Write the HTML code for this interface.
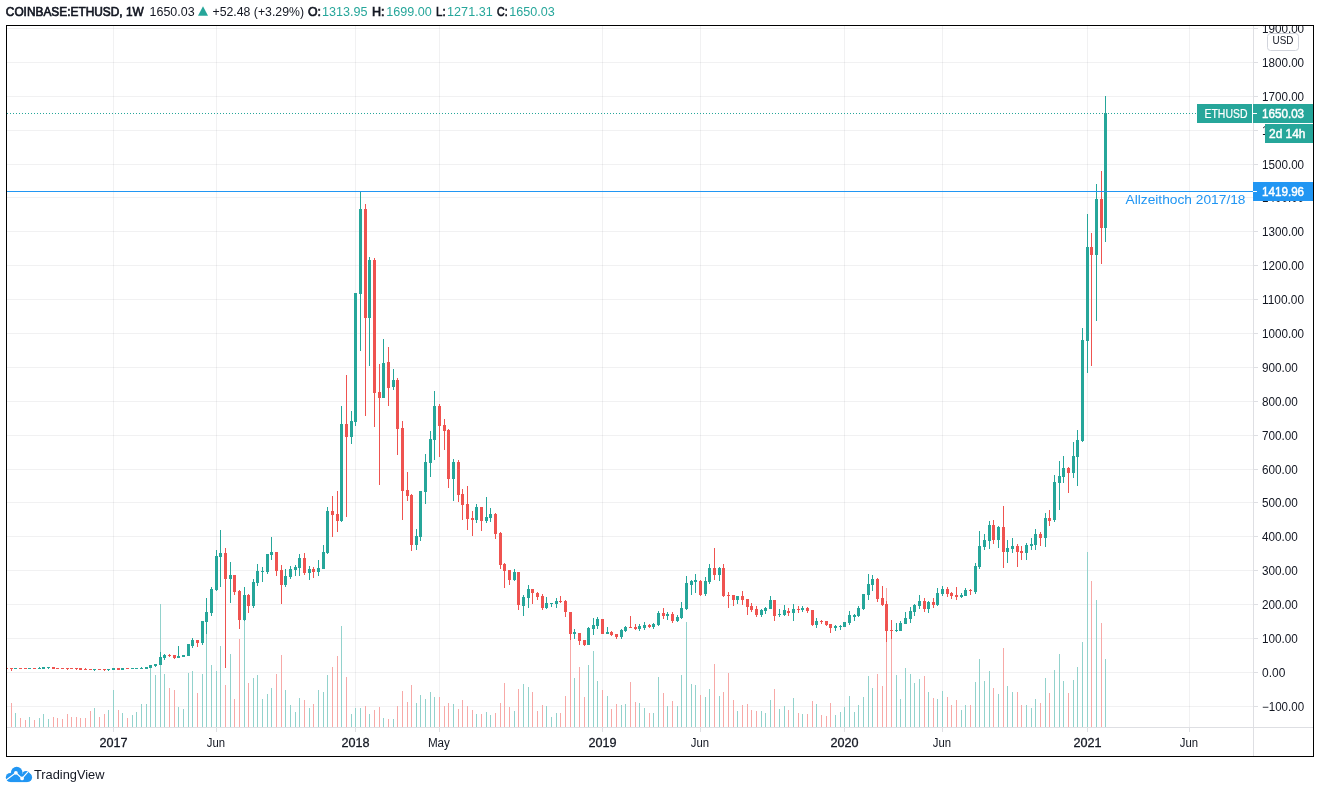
<!DOCTYPE html><html><head><meta charset="utf-8"><title>ETHUSD</title><style>
html,body{margin:0;padding:0;background:#fff}body{width:1320px;height:792px;position:relative;overflow:hidden;font-family:"Liberation Sans",sans-serif}svg{position:absolute;left:0;top:0;will-change:transform;opacity:0.999}text{font-family:"Liberation Sans",sans-serif}
</style></head><body>
<svg width="1320" height="792" viewBox="0 0 1320 792">
<clipPath id="cc"><rect x="7" y="26" width="1246" height="701"/></clipPath>
<g shape-rendering="crispEdges">
<g clip-path="url(#cc)">
<rect x="7" y="706" width="1246" height="1" fill="#2a2e39" fill-opacity="0.065"/>
<rect x="7" y="672" width="1246" height="1" fill="#2a2e39" fill-opacity="0.065"/>
<rect x="7" y="638" width="1246" height="1" fill="#2a2e39" fill-opacity="0.065"/>
<rect x="7" y="604" width="1246" height="1" fill="#2a2e39" fill-opacity="0.065"/>
<rect x="7" y="570" width="1246" height="1" fill="#2a2e39" fill-opacity="0.065"/>
<rect x="7" y="536" width="1246" height="1" fill="#2a2e39" fill-opacity="0.065"/>
<rect x="7" y="502" width="1246" height="1" fill="#2a2e39" fill-opacity="0.065"/>
<rect x="7" y="469" width="1246" height="1" fill="#2a2e39" fill-opacity="0.065"/>
<rect x="7" y="435" width="1246" height="1" fill="#2a2e39" fill-opacity="0.065"/>
<rect x="7" y="401" width="1246" height="1" fill="#2a2e39" fill-opacity="0.065"/>
<rect x="7" y="367" width="1246" height="1" fill="#2a2e39" fill-opacity="0.065"/>
<rect x="7" y="333" width="1246" height="1" fill="#2a2e39" fill-opacity="0.065"/>
<rect x="7" y="299" width="1246" height="1" fill="#2a2e39" fill-opacity="0.065"/>
<rect x="7" y="265" width="1246" height="1" fill="#2a2e39" fill-opacity="0.065"/>
<rect x="7" y="231" width="1246" height="1" fill="#2a2e39" fill-opacity="0.065"/>
<rect x="7" y="197" width="1246" height="1" fill="#2a2e39" fill-opacity="0.065"/>
<rect x="7" y="164" width="1246" height="1" fill="#2a2e39" fill-opacity="0.065"/>
<rect x="7" y="130" width="1246" height="1" fill="#2a2e39" fill-opacity="0.065"/>
<rect x="7" y="96" width="1246" height="1" fill="#2a2e39" fill-opacity="0.065"/>
<rect x="7" y="62" width="1246" height="1" fill="#2a2e39" fill-opacity="0.065"/>
<rect x="7" y="28" width="1246" height="1" fill="#2a2e39" fill-opacity="0.065"/>
<rect x="113" y="26" width="1" height="701" fill="#2a2e39" fill-opacity="0.065"/>
<rect x="216" y="26" width="1" height="701" fill="#2a2e39" fill-opacity="0.065"/>
<rect x="355" y="26" width="1" height="701" fill="#2a2e39" fill-opacity="0.065"/>
<rect x="439" y="26" width="1" height="701" fill="#2a2e39" fill-opacity="0.065"/>
<rect x="602" y="26" width="1" height="701" fill="#2a2e39" fill-opacity="0.065"/>
<rect x="700" y="26" width="1" height="701" fill="#2a2e39" fill-opacity="0.065"/>
<rect x="844" y="26" width="1" height="701" fill="#2a2e39" fill-opacity="0.065"/>
<rect x="942" y="26" width="1" height="701" fill="#2a2e39" fill-opacity="0.065"/>
<rect x="1087" y="26" width="1" height="701" fill="#2a2e39" fill-opacity="0.065"/>
<rect x="1189" y="26" width="1" height="701" fill="#2a2e39" fill-opacity="0.065"/>
<rect x="6" y="727" width="1" height="0" fill="#f7a9a7"/>
<rect x="11" y="703" width="1" height="24" fill="#f7a9a7"/>
<rect x="15" y="713" width="1" height="14" fill="#92d2cc"/>
<rect x="20" y="718" width="1" height="9" fill="#f7a9a7"/>
<rect x="25" y="720" width="1" height="7" fill="#f7a9a7"/>
<rect x="29" y="717" width="1" height="10" fill="#92d2cc"/>
<rect x="34" y="720" width="1" height="7" fill="#f7a9a7"/>
<rect x="39" y="718" width="1" height="9" fill="#92d2cc"/>
<rect x="43" y="714" width="1" height="13" fill="#92d2cc"/>
<rect x="48" y="719" width="1" height="8" fill="#92d2cc"/>
<rect x="53" y="717" width="1" height="10" fill="#f7a9a7"/>
<rect x="57" y="718" width="1" height="9" fill="#f7a9a7"/>
<rect x="62" y="719" width="1" height="8" fill="#f7a9a7"/>
<rect x="67" y="714" width="1" height="13" fill="#f7a9a7"/>
<rect x="71" y="717" width="1" height="10" fill="#f7a9a7"/>
<rect x="76" y="717" width="1" height="10" fill="#f7a9a7"/>
<rect x="80" y="718" width="1" height="9" fill="#f7a9a7"/>
<rect x="85" y="718" width="1" height="9" fill="#f7a9a7"/>
<rect x="90" y="711" width="1" height="16" fill="#f7a9a7"/>
<rect x="94" y="708" width="1" height="19" fill="#92d2cc"/>
<rect x="99" y="717" width="1" height="10" fill="#f7a9a7"/>
<rect x="104" y="714" width="1" height="13" fill="#f7a9a7"/>
<rect x="108" y="710" width="1" height="17" fill="#92d2cc"/>
<rect x="113" y="690" width="1" height="37" fill="#92d2cc"/>
<rect x="118" y="710" width="1" height="17" fill="#f7a9a7"/>
<rect x="122" y="713" width="1" height="14" fill="#92d2cc"/>
<rect x="127" y="718" width="1" height="9" fill="#f7a9a7"/>
<rect x="132" y="715" width="1" height="12" fill="#92d2cc"/>
<rect x="136" y="712" width="1" height="15" fill="#92d2cc"/>
<rect x="141" y="704" width="1" height="23" fill="#92d2cc"/>
<rect x="146" y="704" width="1" height="23" fill="#92d2cc"/>
<rect x="150" y="668" width="1" height="59" fill="#92d2cc"/>
<rect x="155" y="675" width="1" height="52" fill="#92d2cc"/>
<rect x="160" y="604" width="1" height="123" fill="#92d2cc"/>
<rect x="164" y="674" width="1" height="53" fill="#92d2cc"/>
<rect x="169" y="688" width="1" height="39" fill="#f7a9a7"/>
<rect x="174" y="690" width="1" height="37" fill="#f7a9a7"/>
<rect x="178" y="707" width="1" height="20" fill="#92d2cc"/>
<rect x="183" y="709" width="1" height="18" fill="#92d2cc"/>
<rect x="188" y="673" width="1" height="54" fill="#92d2cc"/>
<rect x="192" y="671" width="1" height="56" fill="#92d2cc"/>
<rect x="197" y="693" width="1" height="34" fill="#f7a9a7"/>
<rect x="202" y="674" width="1" height="53" fill="#92d2cc"/>
<rect x="206" y="620" width="1" height="107" fill="#92d2cc"/>
<rect x="211" y="665" width="1" height="62" fill="#92d2cc"/>
<rect x="216" y="671" width="1" height="56" fill="#92d2cc"/>
<rect x="220" y="646" width="1" height="81" fill="#92d2cc"/>
<rect x="225" y="685" width="1" height="42" fill="#f7a9a7"/>
<rect x="230" y="654" width="1" height="73" fill="#92d2cc"/>
<rect x="234" y="699" width="1" height="28" fill="#f7a9a7"/>
<rect x="239" y="639" width="1" height="88" fill="#f7a9a7"/>
<rect x="244" y="619" width="1" height="108" fill="#92d2cc"/>
<rect x="248" y="683" width="1" height="44" fill="#f7a9a7"/>
<rect x="253" y="678" width="1" height="49" fill="#92d2cc"/>
<rect x="257" y="675" width="1" height="52" fill="#92d2cc"/>
<rect x="262" y="699" width="1" height="28" fill="#92d2cc"/>
<rect x="267" y="694" width="1" height="33" fill="#92d2cc"/>
<rect x="271" y="688" width="1" height="39" fill="#92d2cc"/>
<rect x="276" y="674" width="1" height="53" fill="#f7a9a7"/>
<rect x="281" y="655" width="1" height="72" fill="#f7a9a7"/>
<rect x="285" y="690" width="1" height="37" fill="#92d2cc"/>
<rect x="290" y="705" width="1" height="22" fill="#92d2cc"/>
<rect x="295" y="712" width="1" height="15" fill="#92d2cc"/>
<rect x="299" y="698" width="1" height="29" fill="#92d2cc"/>
<rect x="304" y="700" width="1" height="27" fill="#f7a9a7"/>
<rect x="309" y="708" width="1" height="19" fill="#92d2cc"/>
<rect x="313" y="704" width="1" height="23" fill="#f7a9a7"/>
<rect x="318" y="690" width="1" height="37" fill="#92d2cc"/>
<rect x="323" y="692" width="1" height="35" fill="#92d2cc"/>
<rect x="327" y="675" width="1" height="52" fill="#92d2cc"/>
<rect x="332" y="667" width="1" height="60" fill="#f7a9a7"/>
<rect x="337" y="656" width="1" height="71" fill="#f7a9a7"/>
<rect x="341" y="626" width="1" height="101" fill="#92d2cc"/>
<rect x="346" y="677" width="1" height="50" fill="#f7a9a7"/>
<rect x="351" y="714" width="1" height="13" fill="#92d2cc"/>
<rect x="355" y="708" width="1" height="19" fill="#92d2cc"/>
<rect x="360" y="708" width="1" height="19" fill="#92d2cc"/>
<rect x="365" y="706" width="1" height="21" fill="#f7a9a7"/>
<rect x="369" y="714" width="1" height="13" fill="#92d2cc"/>
<rect x="374" y="710" width="1" height="17" fill="#f7a9a7"/>
<rect x="379" y="707" width="1" height="20" fill="#f7a9a7"/>
<rect x="383" y="718" width="1" height="9" fill="#92d2cc"/>
<rect x="388" y="719" width="1" height="8" fill="#f7a9a7"/>
<rect x="393" y="719" width="1" height="8" fill="#92d2cc"/>
<rect x="397" y="706" width="1" height="21" fill="#f7a9a7"/>
<rect x="402" y="691" width="1" height="36" fill="#f7a9a7"/>
<rect x="407" y="702" width="1" height="25" fill="#f7a9a7"/>
<rect x="411" y="685" width="1" height="42" fill="#f7a9a7"/>
<rect x="416" y="703" width="1" height="24" fill="#92d2cc"/>
<rect x="420" y="695" width="1" height="32" fill="#92d2cc"/>
<rect x="425" y="699" width="1" height="28" fill="#92d2cc"/>
<rect x="430" y="692" width="1" height="35" fill="#92d2cc"/>
<rect x="434" y="697" width="1" height="30" fill="#92d2cc"/>
<rect x="439" y="697" width="1" height="30" fill="#f7a9a7"/>
<rect x="444" y="706" width="1" height="21" fill="#f7a9a7"/>
<rect x="448" y="703" width="1" height="24" fill="#f7a9a7"/>
<rect x="453" y="704" width="1" height="23" fill="#92d2cc"/>
<rect x="458" y="709" width="1" height="18" fill="#f7a9a7"/>
<rect x="462" y="700" width="1" height="27" fill="#f7a9a7"/>
<rect x="467" y="706" width="1" height="21" fill="#f7a9a7"/>
<rect x="472" y="710" width="1" height="17" fill="#f7a9a7"/>
<rect x="476" y="714" width="1" height="13" fill="#92d2cc"/>
<rect x="481" y="714" width="1" height="13" fill="#f7a9a7"/>
<rect x="486" y="712" width="1" height="15" fill="#92d2cc"/>
<rect x="490" y="715" width="1" height="12" fill="#92d2cc"/>
<rect x="495" y="713" width="1" height="14" fill="#f7a9a7"/>
<rect x="500" y="703" width="1" height="24" fill="#f7a9a7"/>
<rect x="504" y="683" width="1" height="44" fill="#f7a9a7"/>
<rect x="509" y="707" width="1" height="20" fill="#f7a9a7"/>
<rect x="514" y="711" width="1" height="16" fill="#92d2cc"/>
<rect x="518" y="689" width="1" height="38" fill="#f7a9a7"/>
<rect x="523" y="684" width="1" height="43" fill="#92d2cc"/>
<rect x="528" y="687" width="1" height="40" fill="#92d2cc"/>
<rect x="532" y="692" width="1" height="35" fill="#f7a9a7"/>
<rect x="537" y="711" width="1" height="16" fill="#f7a9a7"/>
<rect x="542" y="705" width="1" height="22" fill="#f7a9a7"/>
<rect x="546" y="706" width="1" height="21" fill="#92d2cc"/>
<rect x="551" y="717" width="1" height="10" fill="#92d2cc"/>
<rect x="556" y="713" width="1" height="14" fill="#92d2cc"/>
<rect x="560" y="713" width="1" height="14" fill="#f7a9a7"/>
<rect x="565" y="696" width="1" height="31" fill="#f7a9a7"/>
<rect x="570" y="640" width="1" height="87" fill="#f7a9a7"/>
<rect x="574" y="678" width="1" height="49" fill="#92d2cc"/>
<rect x="579" y="667" width="1" height="60" fill="#f7a9a7"/>
<rect x="584" y="697" width="1" height="30" fill="#f7a9a7"/>
<rect x="588" y="665" width="1" height="62" fill="#92d2cc"/>
<rect x="593" y="651" width="1" height="76" fill="#92d2cc"/>
<rect x="597" y="681" width="1" height="46" fill="#92d2cc"/>
<rect x="602" y="690" width="1" height="37" fill="#f7a9a7"/>
<rect x="607" y="696" width="1" height="31" fill="#92d2cc"/>
<rect x="611" y="709" width="1" height="18" fill="#f7a9a7"/>
<rect x="616" y="704" width="1" height="23" fill="#f7a9a7"/>
<rect x="621" y="705" width="1" height="22" fill="#92d2cc"/>
<rect x="625" y="704" width="1" height="23" fill="#92d2cc"/>
<rect x="630" y="682" width="1" height="45" fill="#f7a9a7"/>
<rect x="635" y="702" width="1" height="25" fill="#f7a9a7"/>
<rect x="639" y="703" width="1" height="24" fill="#92d2cc"/>
<rect x="644" y="708" width="1" height="19" fill="#92d2cc"/>
<rect x="649" y="713" width="1" height="14" fill="#f7a9a7"/>
<rect x="653" y="713" width="1" height="14" fill="#92d2cc"/>
<rect x="658" y="677" width="1" height="50" fill="#92d2cc"/>
<rect x="663" y="693" width="1" height="34" fill="#f7a9a7"/>
<rect x="667" y="706" width="1" height="21" fill="#92d2cc"/>
<rect x="672" y="701" width="1" height="26" fill="#f7a9a7"/>
<rect x="677" y="706" width="1" height="21" fill="#92d2cc"/>
<rect x="681" y="675" width="1" height="52" fill="#92d2cc"/>
<rect x="686" y="622" width="1" height="105" fill="#92d2cc"/>
<rect x="691" y="684" width="1" height="43" fill="#92d2cc"/>
<rect x="695" y="685" width="1" height="42" fill="#92d2cc"/>
<rect x="700" y="695" width="1" height="32" fill="#f7a9a7"/>
<rect x="705" y="697" width="1" height="30" fill="#92d2cc"/>
<rect x="709" y="689" width="1" height="38" fill="#92d2cc"/>
<rect x="714" y="664" width="1" height="63" fill="#f7a9a7"/>
<rect x="719" y="696" width="1" height="31" fill="#92d2cc"/>
<rect x="723" y="692" width="1" height="35" fill="#f7a9a7"/>
<rect x="728" y="673" width="1" height="54" fill="#f7a9a7"/>
<rect x="733" y="700" width="1" height="27" fill="#f7a9a7"/>
<rect x="737" y="711" width="1" height="16" fill="#92d2cc"/>
<rect x="742" y="705" width="1" height="22" fill="#f7a9a7"/>
<rect x="747" y="704" width="1" height="23" fill="#f7a9a7"/>
<rect x="751" y="710" width="1" height="17" fill="#f7a9a7"/>
<rect x="756" y="711" width="1" height="16" fill="#f7a9a7"/>
<rect x="761" y="711" width="1" height="16" fill="#92d2cc"/>
<rect x="765" y="713" width="1" height="14" fill="#92d2cc"/>
<rect x="770" y="700" width="1" height="27" fill="#92d2cc"/>
<rect x="774" y="689" width="1" height="38" fill="#f7a9a7"/>
<rect x="779" y="709" width="1" height="18" fill="#92d2cc"/>
<rect x="784" y="706" width="1" height="21" fill="#92d2cc"/>
<rect x="788" y="710" width="1" height="17" fill="#f7a9a7"/>
<rect x="793" y="698" width="1" height="29" fill="#92d2cc"/>
<rect x="798" y="713" width="1" height="14" fill="#f7a9a7"/>
<rect x="802" y="714" width="1" height="13" fill="#92d2cc"/>
<rect x="807" y="714" width="1" height="13" fill="#f7a9a7"/>
<rect x="812" y="701" width="1" height="26" fill="#f7a9a7"/>
<rect x="816" y="704" width="1" height="23" fill="#92d2cc"/>
<rect x="821" y="715" width="1" height="12" fill="#f7a9a7"/>
<rect x="826" y="716" width="1" height="11" fill="#f7a9a7"/>
<rect x="830" y="703" width="1" height="24" fill="#f7a9a7"/>
<rect x="835" y="715" width="1" height="12" fill="#92d2cc"/>
<rect x="840" y="712" width="1" height="15" fill="#92d2cc"/>
<rect x="844" y="707" width="1" height="20" fill="#92d2cc"/>
<rect x="849" y="696" width="1" height="31" fill="#92d2cc"/>
<rect x="854" y="712" width="1" height="15" fill="#92d2cc"/>
<rect x="858" y="705" width="1" height="22" fill="#92d2cc"/>
<rect x="863" y="697" width="1" height="30" fill="#92d2cc"/>
<rect x="868" y="676" width="1" height="51" fill="#92d2cc"/>
<rect x="872" y="688" width="1" height="39" fill="#92d2cc"/>
<rect x="877" y="674" width="1" height="53" fill="#f7a9a7"/>
<rect x="882" y="686" width="1" height="41" fill="#f7a9a7"/>
<rect x="886" y="588" width="1" height="139" fill="#f7a9a7"/>
<rect x="891" y="625" width="1" height="102" fill="#f7a9a7"/>
<rect x="896" y="675" width="1" height="52" fill="#92d2cc"/>
<rect x="900" y="699" width="1" height="28" fill="#92d2cc"/>
<rect x="905" y="668" width="1" height="59" fill="#92d2cc"/>
<rect x="910" y="674" width="1" height="53" fill="#92d2cc"/>
<rect x="914" y="683" width="1" height="44" fill="#92d2cc"/>
<rect x="919" y="679" width="1" height="48" fill="#92d2cc"/>
<rect x="924" y="676" width="1" height="51" fill="#f7a9a7"/>
<rect x="928" y="692" width="1" height="35" fill="#92d2cc"/>
<rect x="933" y="698" width="1" height="29" fill="#f7a9a7"/>
<rect x="937" y="699" width="1" height="28" fill="#92d2cc"/>
<rect x="942" y="691" width="1" height="36" fill="#92d2cc"/>
<rect x="947" y="697" width="1" height="30" fill="#f7a9a7"/>
<rect x="951" y="705" width="1" height="22" fill="#f7a9a7"/>
<rect x="956" y="700" width="1" height="27" fill="#f7a9a7"/>
<rect x="961" y="710" width="1" height="17" fill="#92d2cc"/>
<rect x="965" y="705" width="1" height="22" fill="#92d2cc"/>
<rect x="970" y="705" width="1" height="22" fill="#f7a9a7"/>
<rect x="975" y="682" width="1" height="45" fill="#92d2cc"/>
<rect x="979" y="659" width="1" height="68" fill="#92d2cc"/>
<rect x="984" y="681" width="1" height="46" fill="#92d2cc"/>
<rect x="989" y="671" width="1" height="56" fill="#92d2cc"/>
<rect x="993" y="688" width="1" height="39" fill="#f7a9a7"/>
<rect x="998" y="694" width="1" height="33" fill="#92d2cc"/>
<rect x="1003" y="648" width="1" height="79" fill="#f7a9a7"/>
<rect x="1007" y="686" width="1" height="41" fill="#92d2cc"/>
<rect x="1012" y="692" width="1" height="35" fill="#92d2cc"/>
<rect x="1017" y="692" width="1" height="35" fill="#f7a9a7"/>
<rect x="1021" y="705" width="1" height="22" fill="#f7a9a7"/>
<rect x="1026" y="705" width="1" height="22" fill="#92d2cc"/>
<rect x="1031" y="708" width="1" height="19" fill="#92d2cc"/>
<rect x="1035" y="699" width="1" height="28" fill="#92d2cc"/>
<rect x="1040" y="703" width="1" height="24" fill="#f7a9a7"/>
<rect x="1045" y="678" width="1" height="49" fill="#92d2cc"/>
<rect x="1049" y="693" width="1" height="34" fill="#f7a9a7"/>
<rect x="1054" y="670" width="1" height="57" fill="#92d2cc"/>
<rect x="1059" y="654" width="1" height="73" fill="#92d2cc"/>
<rect x="1063" y="681" width="1" height="46" fill="#92d2cc"/>
<rect x="1068" y="693" width="1" height="34" fill="#f7a9a7"/>
<rect x="1073" y="680" width="1" height="47" fill="#92d2cc"/>
<rect x="1077" y="667" width="1" height="60" fill="#92d2cc"/>
<rect x="1082" y="642" width="1" height="85" fill="#92d2cc"/>
<rect x="1087" y="552" width="1" height="175" fill="#92d2cc"/>
<rect x="1091" y="581" width="1" height="146" fill="#f7a9a7"/>
<rect x="1096" y="600" width="1" height="127" fill="#92d2cc"/>
<rect x="1101" y="623" width="1" height="104" fill="#f7a9a7"/>
<rect x="1105" y="659" width="1" height="68" fill="#92d2cc"/>
<rect x="6" y="668" width="1" height="1" fill="#ef5350"/>
<rect x="5" y="668" width="3" height="1" fill="#ef5350"/>
<rect x="11" y="668" width="1" height="3" fill="#ef5350"/>
<rect x="10" y="668" width="3" height="1" fill="#ef5350"/>
<rect x="15" y="668" width="1" height="1" fill="#26a69a"/>
<rect x="14" y="668" width="3" height="1" fill="#26a69a"/>
<rect x="20" y="668" width="1" height="1" fill="#ef5350"/>
<rect x="19" y="668" width="3" height="1" fill="#ef5350"/>
<rect x="25" y="668" width="1" height="1" fill="#ef5350"/>
<rect x="24" y="668" width="3" height="1" fill="#ef5350"/>
<rect x="29" y="668" width="1" height="1" fill="#26a69a"/>
<rect x="28" y="668" width="3" height="1" fill="#26a69a"/>
<rect x="34" y="668" width="1" height="1" fill="#ef5350"/>
<rect x="33" y="668" width="3" height="1" fill="#ef5350"/>
<rect x="39" y="667" width="1" height="2" fill="#26a69a"/>
<rect x="38" y="668" width="3" height="1" fill="#26a69a"/>
<rect x="43" y="667" width="1" height="2" fill="#26a69a"/>
<rect x="42" y="667" width="3" height="2" fill="#26a69a"/>
<rect x="48" y="667" width="1" height="2" fill="#26a69a"/>
<rect x="47" y="667" width="3" height="1" fill="#26a69a"/>
<rect x="53" y="667" width="1" height="2" fill="#ef5350"/>
<rect x="52" y="667" width="3" height="2" fill="#ef5350"/>
<rect x="57" y="668" width="1" height="1" fill="#ef5350"/>
<rect x="56" y="668" width="3" height="1" fill="#ef5350"/>
<rect x="62" y="668" width="1" height="1" fill="#ef5350"/>
<rect x="61" y="668" width="3" height="1" fill="#ef5350"/>
<rect x="67" y="668" width="1" height="2" fill="#ef5350"/>
<rect x="66" y="668" width="3" height="1" fill="#ef5350"/>
<rect x="71" y="668" width="1" height="1" fill="#ef5350"/>
<rect x="70" y="668" width="3" height="1" fill="#ef5350"/>
<rect x="76" y="668" width="1" height="2" fill="#ef5350"/>
<rect x="75" y="668" width="3" height="1" fill="#ef5350"/>
<rect x="80" y="668" width="1" height="2" fill="#ef5350"/>
<rect x="79" y="668" width="3" height="2" fill="#ef5350"/>
<rect x="85" y="668" width="1" height="2" fill="#ef5350"/>
<rect x="84" y="669" width="3" height="1" fill="#ef5350"/>
<rect x="90" y="669" width="1" height="1" fill="#ef5350"/>
<rect x="89" y="669" width="3" height="1" fill="#ef5350"/>
<rect x="94" y="669" width="1" height="2" fill="#26a69a"/>
<rect x="93" y="669" width="3" height="1" fill="#26a69a"/>
<rect x="99" y="669" width="1" height="1" fill="#ef5350"/>
<rect x="98" y="669" width="3" height="1" fill="#ef5350"/>
<rect x="104" y="669" width="1" height="2" fill="#ef5350"/>
<rect x="103" y="669" width="3" height="1" fill="#ef5350"/>
<rect x="108" y="669" width="1" height="2" fill="#26a69a"/>
<rect x="107" y="669" width="3" height="1" fill="#26a69a"/>
<rect x="113" y="668" width="1" height="2" fill="#26a69a"/>
<rect x="112" y="668" width="3" height="2" fill="#26a69a"/>
<rect x="118" y="668" width="1" height="2" fill="#ef5350"/>
<rect x="117" y="668" width="3" height="2" fill="#ef5350"/>
<rect x="122" y="668" width="1" height="2" fill="#26a69a"/>
<rect x="121" y="668" width="3" height="2" fill="#26a69a"/>
<rect x="127" y="668" width="1" height="1" fill="#ef5350"/>
<rect x="126" y="668" width="3" height="1" fill="#ef5350"/>
<rect x="132" y="668" width="1" height="1" fill="#26a69a"/>
<rect x="131" y="668" width="3" height="1" fill="#26a69a"/>
<rect x="136" y="668" width="1" height="1" fill="#26a69a"/>
<rect x="135" y="668" width="3" height="1" fill="#26a69a"/>
<rect x="141" y="667" width="1" height="2" fill="#26a69a"/>
<rect x="140" y="668" width="3" height="1" fill="#26a69a"/>
<rect x="146" y="667" width="1" height="2" fill="#26a69a"/>
<rect x="145" y="667" width="3" height="2" fill="#26a69a"/>
<rect x="150" y="665" width="1" height="3" fill="#26a69a"/>
<rect x="149" y="665" width="3" height="3" fill="#26a69a"/>
<rect x="155" y="664" width="1" height="3" fill="#26a69a"/>
<rect x="154" y="664" width="3" height="2" fill="#26a69a"/>
<rect x="160" y="652" width="1" height="13" fill="#26a69a"/>
<rect x="159" y="657" width="3" height="8" fill="#26a69a"/>
<rect x="164" y="654" width="1" height="6" fill="#26a69a"/>
<rect x="163" y="655" width="3" height="3" fill="#26a69a"/>
<rect x="169" y="654" width="1" height="3" fill="#ef5350"/>
<rect x="168" y="655" width="3" height="1" fill="#ef5350"/>
<rect x="174" y="655" width="1" height="4" fill="#ef5350"/>
<rect x="173" y="655" width="3" height="3" fill="#ef5350"/>
<rect x="178" y="646" width="1" height="12" fill="#26a69a"/>
<rect x="177" y="656" width="3" height="2" fill="#26a69a"/>
<rect x="183" y="655" width="1" height="2" fill="#26a69a"/>
<rect x="182" y="655" width="3" height="2" fill="#26a69a"/>
<rect x="188" y="644" width="1" height="12" fill="#26a69a"/>
<rect x="187" y="644" width="3" height="12" fill="#26a69a"/>
<rect x="192" y="638" width="1" height="10" fill="#26a69a"/>
<rect x="191" y="640" width="3" height="6" fill="#26a69a"/>
<rect x="197" y="640" width="1" height="7" fill="#ef5350"/>
<rect x="196" y="640" width="3" height="3" fill="#ef5350"/>
<rect x="202" y="621" width="1" height="24" fill="#26a69a"/>
<rect x="201" y="621" width="3" height="22" fill="#26a69a"/>
<rect x="206" y="598" width="1" height="36" fill="#26a69a"/>
<rect x="205" y="612" width="3" height="10" fill="#26a69a"/>
<rect x="211" y="587" width="1" height="29" fill="#26a69a"/>
<rect x="210" y="589" width="3" height="24" fill="#26a69a"/>
<rect x="216" y="550" width="1" height="41" fill="#26a69a"/>
<rect x="215" y="556" width="3" height="34" fill="#26a69a"/>
<rect x="220" y="530" width="1" height="57" fill="#26a69a"/>
<rect x="219" y="553" width="3" height="4" fill="#26a69a"/>
<rect x="225" y="548" width="1" height="120" fill="#ef5350"/>
<rect x="224" y="553" width="3" height="26" fill="#ef5350"/>
<rect x="230" y="562" width="1" height="41" fill="#26a69a"/>
<rect x="229" y="575" width="3" height="4" fill="#26a69a"/>
<rect x="234" y="575" width="1" height="20" fill="#ef5350"/>
<rect x="233" y="575" width="3" height="17" fill="#ef5350"/>
<rect x="239" y="590" width="1" height="39" fill="#ef5350"/>
<rect x="238" y="591" width="3" height="29" fill="#ef5350"/>
<rect x="244" y="587" width="1" height="34" fill="#26a69a"/>
<rect x="243" y="595" width="3" height="25" fill="#26a69a"/>
<rect x="248" y="594" width="1" height="19" fill="#ef5350"/>
<rect x="247" y="595" width="3" height="11" fill="#ef5350"/>
<rect x="253" y="579" width="1" height="29" fill="#26a69a"/>
<rect x="252" y="582" width="3" height="24" fill="#26a69a"/>
<rect x="257" y="564" width="1" height="22" fill="#26a69a"/>
<rect x="256" y="571" width="3" height="12" fill="#26a69a"/>
<rect x="262" y="567" width="1" height="15" fill="#26a69a"/>
<rect x="261" y="571" width="3" height="1" fill="#26a69a"/>
<rect x="267" y="554" width="1" height="20" fill="#26a69a"/>
<rect x="266" y="554" width="3" height="18" fill="#26a69a"/>
<rect x="271" y="537" width="1" height="23" fill="#26a69a"/>
<rect x="270" y="552" width="3" height="3" fill="#26a69a"/>
<rect x="276" y="552" width="1" height="24" fill="#ef5350"/>
<rect x="275" y="552" width="3" height="19" fill="#ef5350"/>
<rect x="281" y="565" width="1" height="39" fill="#ef5350"/>
<rect x="280" y="570" width="3" height="15" fill="#ef5350"/>
<rect x="285" y="569" width="1" height="18" fill="#26a69a"/>
<rect x="284" y="576" width="3" height="9" fill="#26a69a"/>
<rect x="290" y="566" width="1" height="13" fill="#26a69a"/>
<rect x="289" y="569" width="3" height="8" fill="#26a69a"/>
<rect x="295" y="565" width="1" height="11" fill="#26a69a"/>
<rect x="294" y="567" width="3" height="3" fill="#26a69a"/>
<rect x="299" y="554" width="1" height="22" fill="#26a69a"/>
<rect x="298" y="558" width="3" height="10" fill="#26a69a"/>
<rect x="304" y="553" width="1" height="22" fill="#ef5350"/>
<rect x="303" y="558" width="3" height="15" fill="#ef5350"/>
<rect x="309" y="566" width="1" height="14" fill="#26a69a"/>
<rect x="308" y="569" width="3" height="4" fill="#26a69a"/>
<rect x="313" y="567" width="1" height="11" fill="#ef5350"/>
<rect x="312" y="569" width="3" height="3" fill="#ef5350"/>
<rect x="318" y="560" width="1" height="16" fill="#26a69a"/>
<rect x="317" y="568" width="3" height="4" fill="#26a69a"/>
<rect x="323" y="545" width="1" height="24" fill="#26a69a"/>
<rect x="322" y="552" width="3" height="17" fill="#26a69a"/>
<rect x="327" y="507" width="1" height="47" fill="#26a69a"/>
<rect x="326" y="511" width="3" height="42" fill="#26a69a"/>
<rect x="332" y="496" width="1" height="41" fill="#ef5350"/>
<rect x="331" y="511" width="3" height="4" fill="#ef5350"/>
<rect x="337" y="491" width="1" height="41" fill="#ef5350"/>
<rect x="336" y="514" width="3" height="7" fill="#ef5350"/>
<rect x="341" y="406" width="1" height="116" fill="#26a69a"/>
<rect x="340" y="424" width="3" height="97" fill="#26a69a"/>
<rect x="346" y="375" width="1" height="142" fill="#ef5350"/>
<rect x="345" y="424" width="3" height="13" fill="#ef5350"/>
<rect x="351" y="411" width="1" height="33" fill="#26a69a"/>
<rect x="350" y="421" width="3" height="16" fill="#26a69a"/>
<rect x="355" y="293" width="1" height="133" fill="#26a69a"/>
<rect x="354" y="293" width="3" height="129" fill="#26a69a"/>
<rect x="360" y="191" width="1" height="160" fill="#26a69a"/>
<rect x="359" y="209" width="3" height="85" fill="#26a69a"/>
<rect x="365" y="204" width="1" height="212" fill="#ef5350"/>
<rect x="364" y="209" width="3" height="109" fill="#ef5350"/>
<rect x="369" y="257" width="1" height="109" fill="#26a69a"/>
<rect x="368" y="260" width="3" height="58" fill="#26a69a"/>
<rect x="374" y="258" width="1" height="169" fill="#ef5350"/>
<rect x="373" y="260" width="3" height="133" fill="#ef5350"/>
<rect x="379" y="364" width="1" height="121" fill="#ef5350"/>
<rect x="378" y="392" width="3" height="6" fill="#ef5350"/>
<rect x="383" y="339" width="1" height="59" fill="#26a69a"/>
<rect x="382" y="363" width="3" height="35" fill="#26a69a"/>
<rect x="388" y="347" width="1" height="59" fill="#ef5350"/>
<rect x="387" y="362" width="3" height="26" fill="#ef5350"/>
<rect x="393" y="369" width="1" height="21" fill="#26a69a"/>
<rect x="392" y="380" width="3" height="7" fill="#26a69a"/>
<rect x="397" y="378" width="1" height="77" fill="#ef5350"/>
<rect x="396" y="380" width="3" height="49" fill="#ef5350"/>
<rect x="402" y="421" width="1" height="99" fill="#ef5350"/>
<rect x="401" y="428" width="3" height="63" fill="#ef5350"/>
<rect x="407" y="472" width="1" height="29" fill="#ef5350"/>
<rect x="406" y="490" width="3" height="6" fill="#ef5350"/>
<rect x="411" y="494" width="1" height="57" fill="#ef5350"/>
<rect x="410" y="495" width="3" height="50" fill="#ef5350"/>
<rect x="416" y="529" width="1" height="21" fill="#26a69a"/>
<rect x="415" y="536" width="3" height="9" fill="#26a69a"/>
<rect x="420" y="491" width="1" height="50" fill="#26a69a"/>
<rect x="419" y="491" width="3" height="46" fill="#26a69a"/>
<rect x="425" y="454" width="1" height="50" fill="#26a69a"/>
<rect x="424" y="462" width="3" height="30" fill="#26a69a"/>
<rect x="430" y="431" width="1" height="46" fill="#26a69a"/>
<rect x="429" y="439" width="3" height="24" fill="#26a69a"/>
<rect x="434" y="391" width="1" height="69" fill="#26a69a"/>
<rect x="433" y="406" width="3" height="34" fill="#26a69a"/>
<rect x="439" y="404" width="1" height="53" fill="#ef5350"/>
<rect x="438" y="406" width="3" height="20" fill="#ef5350"/>
<rect x="444" y="419" width="1" height="31" fill="#ef5350"/>
<rect x="443" y="425" width="3" height="6" fill="#ef5350"/>
<rect x="448" y="429" width="1" height="59" fill="#ef5350"/>
<rect x="447" y="430" width="3" height="49" fill="#ef5350"/>
<rect x="453" y="459" width="1" height="42" fill="#26a69a"/>
<rect x="452" y="462" width="3" height="17" fill="#26a69a"/>
<rect x="458" y="460" width="1" height="42" fill="#ef5350"/>
<rect x="457" y="462" width="3" height="33" fill="#ef5350"/>
<rect x="462" y="489" width="1" height="31" fill="#ef5350"/>
<rect x="461" y="494" width="3" height="11" fill="#ef5350"/>
<rect x="467" y="486" width="1" height="44" fill="#ef5350"/>
<rect x="466" y="504" width="3" height="15" fill="#ef5350"/>
<rect x="472" y="511" width="1" height="25" fill="#ef5350"/>
<rect x="471" y="518" width="3" height="2" fill="#ef5350"/>
<rect x="476" y="504" width="1" height="19" fill="#26a69a"/>
<rect x="475" y="507" width="3" height="13" fill="#26a69a"/>
<rect x="481" y="507" width="1" height="24" fill="#ef5350"/>
<rect x="480" y="507" width="3" height="14" fill="#ef5350"/>
<rect x="486" y="497" width="1" height="26" fill="#26a69a"/>
<rect x="485" y="517" width="3" height="4" fill="#26a69a"/>
<rect x="490" y="508" width="1" height="14" fill="#26a69a"/>
<rect x="489" y="514" width="3" height="4" fill="#26a69a"/>
<rect x="495" y="513" width="1" height="26" fill="#ef5350"/>
<rect x="494" y="514" width="3" height="20" fill="#ef5350"/>
<rect x="500" y="532" width="1" height="37" fill="#ef5350"/>
<rect x="499" y="533" width="3" height="32" fill="#ef5350"/>
<rect x="504" y="563" width="1" height="25" fill="#ef5350"/>
<rect x="503" y="564" width="3" height="7" fill="#ef5350"/>
<rect x="509" y="570" width="1" height="15" fill="#ef5350"/>
<rect x="508" y="570" width="3" height="10" fill="#ef5350"/>
<rect x="514" y="569" width="1" height="12" fill="#26a69a"/>
<rect x="513" y="572" width="3" height="8" fill="#26a69a"/>
<rect x="518" y="572" width="1" height="38" fill="#ef5350"/>
<rect x="517" y="572" width="3" height="33" fill="#ef5350"/>
<rect x="523" y="595" width="1" height="21" fill="#26a69a"/>
<rect x="522" y="597" width="3" height="9" fill="#26a69a"/>
<rect x="528" y="585" width="1" height="23" fill="#26a69a"/>
<rect x="527" y="589" width="3" height="9" fill="#26a69a"/>
<rect x="532" y="589" width="1" height="15" fill="#ef5350"/>
<rect x="531" y="589" width="3" height="4" fill="#ef5350"/>
<rect x="537" y="592" width="1" height="8" fill="#ef5350"/>
<rect x="536" y="593" width="3" height="4" fill="#ef5350"/>
<rect x="542" y="594" width="1" height="16" fill="#ef5350"/>
<rect x="541" y="596" width="3" height="12" fill="#ef5350"/>
<rect x="546" y="597" width="1" height="12" fill="#26a69a"/>
<rect x="545" y="603" width="3" height="5" fill="#26a69a"/>
<rect x="551" y="603" width="1" height="4" fill="#26a69a"/>
<rect x="550" y="603" width="3" height="1" fill="#26a69a"/>
<rect x="556" y="598" width="1" height="10" fill="#26a69a"/>
<rect x="555" y="601" width="3" height="3" fill="#26a69a"/>
<rect x="560" y="596" width="1" height="7" fill="#ef5350"/>
<rect x="559" y="601" width="3" height="1" fill="#ef5350"/>
<rect x="565" y="600" width="1" height="17" fill="#ef5350"/>
<rect x="564" y="601" width="3" height="11" fill="#ef5350"/>
<rect x="570" y="612" width="1" height="28" fill="#ef5350"/>
<rect x="569" y="612" width="3" height="22" fill="#ef5350"/>
<rect x="574" y="629" width="1" height="10" fill="#26a69a"/>
<rect x="573" y="632" width="3" height="2" fill="#26a69a"/>
<rect x="579" y="633" width="1" height="12" fill="#ef5350"/>
<rect x="578" y="633" width="3" height="8" fill="#ef5350"/>
<rect x="584" y="640" width="1" height="6" fill="#ef5350"/>
<rect x="583" y="640" width="3" height="5" fill="#ef5350"/>
<rect x="588" y="627" width="1" height="18" fill="#26a69a"/>
<rect x="587" y="628" width="3" height="17" fill="#26a69a"/>
<rect x="593" y="618" width="1" height="17" fill="#26a69a"/>
<rect x="592" y="625" width="3" height="4" fill="#26a69a"/>
<rect x="597" y="617" width="1" height="12" fill="#26a69a"/>
<rect x="596" y="619" width="3" height="7" fill="#26a69a"/>
<rect x="602" y="619" width="1" height="15" fill="#ef5350"/>
<rect x="601" y="619" width="3" height="15" fill="#ef5350"/>
<rect x="607" y="627" width="1" height="7" fill="#26a69a"/>
<rect x="606" y="632" width="3" height="2" fill="#26a69a"/>
<rect x="611" y="631" width="1" height="5" fill="#ef5350"/>
<rect x="610" y="632" width="3" height="3" fill="#ef5350"/>
<rect x="616" y="634" width="1" height="5" fill="#ef5350"/>
<rect x="615" y="634" width="3" height="3" fill="#ef5350"/>
<rect x="621" y="629" width="1" height="10" fill="#26a69a"/>
<rect x="620" y="630" width="3" height="7" fill="#26a69a"/>
<rect x="625" y="626" width="1" height="6" fill="#26a69a"/>
<rect x="624" y="627" width="3" height="4" fill="#26a69a"/>
<rect x="630" y="616" width="1" height="12" fill="#ef5350"/>
<rect x="629" y="627" width="3" height="1" fill="#ef5350"/>
<rect x="635" y="624" width="1" height="6" fill="#ef5350"/>
<rect x="634" y="627" width="3" height="2" fill="#ef5350"/>
<rect x="639" y="624" width="1" height="7" fill="#26a69a"/>
<rect x="638" y="626" width="3" height="3" fill="#26a69a"/>
<rect x="644" y="622" width="1" height="8" fill="#26a69a"/>
<rect x="643" y="625" width="3" height="3" fill="#26a69a"/>
<rect x="649" y="624" width="1" height="4" fill="#ef5350"/>
<rect x="648" y="625" width="3" height="2" fill="#ef5350"/>
<rect x="653" y="623" width="1" height="6" fill="#26a69a"/>
<rect x="652" y="624" width="3" height="3" fill="#26a69a"/>
<rect x="658" y="611" width="1" height="15" fill="#26a69a"/>
<rect x="657" y="613" width="3" height="12" fill="#26a69a"/>
<rect x="663" y="608" width="1" height="11" fill="#ef5350"/>
<rect x="662" y="613" width="3" height="3" fill="#ef5350"/>
<rect x="667" y="612" width="1" height="8" fill="#26a69a"/>
<rect x="666" y="614" width="3" height="2" fill="#26a69a"/>
<rect x="672" y="612" width="1" height="11" fill="#ef5350"/>
<rect x="671" y="614" width="3" height="7" fill="#ef5350"/>
<rect x="677" y="615" width="1" height="7" fill="#26a69a"/>
<rect x="676" y="617" width="3" height="4" fill="#26a69a"/>
<rect x="681" y="602" width="1" height="17" fill="#26a69a"/>
<rect x="680" y="608" width="3" height="10" fill="#26a69a"/>
<rect x="686" y="576" width="1" height="34" fill="#26a69a"/>
<rect x="685" y="583" width="3" height="26" fill="#26a69a"/>
<rect x="691" y="580" width="1" height="15" fill="#26a69a"/>
<rect x="690" y="581" width="3" height="4" fill="#26a69a"/>
<rect x="695" y="574" width="1" height="19" fill="#26a69a"/>
<rect x="694" y="580" width="3" height="2" fill="#26a69a"/>
<rect x="700" y="580" width="1" height="16" fill="#ef5350"/>
<rect x="699" y="581" width="3" height="14" fill="#ef5350"/>
<rect x="705" y="577" width="1" height="19" fill="#26a69a"/>
<rect x="704" y="581" width="3" height="13" fill="#26a69a"/>
<rect x="709" y="564" width="1" height="20" fill="#26a69a"/>
<rect x="708" y="568" width="3" height="14" fill="#26a69a"/>
<rect x="714" y="548" width="1" height="32" fill="#ef5350"/>
<rect x="713" y="568" width="3" height="7" fill="#ef5350"/>
<rect x="719" y="567" width="1" height="14" fill="#26a69a"/>
<rect x="718" y="568" width="3" height="7" fill="#26a69a"/>
<rect x="723" y="564" width="1" height="33" fill="#ef5350"/>
<rect x="722" y="568" width="3" height="28" fill="#ef5350"/>
<rect x="728" y="592" width="1" height="16" fill="#ef5350"/>
<rect x="727" y="595" width="3" height="1" fill="#ef5350"/>
<rect x="733" y="595" width="1" height="11" fill="#ef5350"/>
<rect x="732" y="595" width="3" height="5" fill="#ef5350"/>
<rect x="737" y="596" width="1" height="8" fill="#26a69a"/>
<rect x="736" y="596" width="3" height="4" fill="#26a69a"/>
<rect x="742" y="591" width="1" height="14" fill="#ef5350"/>
<rect x="741" y="596" width="3" height="4" fill="#ef5350"/>
<rect x="747" y="599" width="1" height="16" fill="#ef5350"/>
<rect x="746" y="599" width="3" height="8" fill="#ef5350"/>
<rect x="751" y="603" width="1" height="9" fill="#ef5350"/>
<rect x="750" y="606" width="3" height="4" fill="#ef5350"/>
<rect x="756" y="606" width="1" height="11" fill="#ef5350"/>
<rect x="755" y="609" width="3" height="6" fill="#ef5350"/>
<rect x="761" y="609" width="1" height="8" fill="#26a69a"/>
<rect x="760" y="610" width="3" height="5" fill="#26a69a"/>
<rect x="765" y="607" width="1" height="7" fill="#26a69a"/>
<rect x="764" y="608" width="3" height="3" fill="#26a69a"/>
<rect x="770" y="596" width="1" height="13" fill="#26a69a"/>
<rect x="769" y="600" width="3" height="9" fill="#26a69a"/>
<rect x="774" y="600" width="1" height="21" fill="#ef5350"/>
<rect x="773" y="600" width="3" height="16" fill="#ef5350"/>
<rect x="779" y="609" width="1" height="8" fill="#26a69a"/>
<rect x="778" y="614" width="3" height="1" fill="#26a69a"/>
<rect x="784" y="605" width="1" height="11" fill="#26a69a"/>
<rect x="783" y="610" width="3" height="5" fill="#26a69a"/>
<rect x="788" y="608" width="1" height="8" fill="#ef5350"/>
<rect x="787" y="611" width="3" height="2" fill="#ef5350"/>
<rect x="793" y="604" width="1" height="17" fill="#26a69a"/>
<rect x="792" y="609" width="3" height="4" fill="#26a69a"/>
<rect x="798" y="606" width="1" height="7" fill="#ef5350"/>
<rect x="797" y="609" width="3" height="1" fill="#ef5350"/>
<rect x="802" y="606" width="1" height="6" fill="#26a69a"/>
<rect x="801" y="608" width="3" height="2" fill="#26a69a"/>
<rect x="807" y="607" width="1" height="6" fill="#ef5350"/>
<rect x="806" y="608" width="3" height="3" fill="#ef5350"/>
<rect x="812" y="610" width="1" height="16" fill="#ef5350"/>
<rect x="811" y="610" width="3" height="15" fill="#ef5350"/>
<rect x="816" y="618" width="1" height="10" fill="#26a69a"/>
<rect x="815" y="621" width="3" height="4" fill="#26a69a"/>
<rect x="821" y="620" width="1" height="4" fill="#ef5350"/>
<rect x="820" y="621" width="3" height="1" fill="#ef5350"/>
<rect x="826" y="621" width="1" height="5" fill="#ef5350"/>
<rect x="825" y="621" width="3" height="4" fill="#ef5350"/>
<rect x="830" y="624" width="1" height="9" fill="#ef5350"/>
<rect x="829" y="624" width="3" height="4" fill="#ef5350"/>
<rect x="835" y="625" width="1" height="6" fill="#26a69a"/>
<rect x="834" y="626" width="3" height="2" fill="#26a69a"/>
<rect x="840" y="625" width="1" height="5" fill="#26a69a"/>
<rect x="839" y="626" width="3" height="1" fill="#26a69a"/>
<rect x="844" y="622" width="1" height="5" fill="#26a69a"/>
<rect x="843" y="622" width="3" height="5" fill="#26a69a"/>
<rect x="849" y="611" width="1" height="14" fill="#26a69a"/>
<rect x="848" y="615" width="3" height="8" fill="#26a69a"/>
<rect x="854" y="614" width="1" height="7" fill="#26a69a"/>
<rect x="853" y="615" width="3" height="2" fill="#26a69a"/>
<rect x="858" y="606" width="1" height="11" fill="#26a69a"/>
<rect x="857" y="608" width="3" height="8" fill="#26a69a"/>
<rect x="863" y="594" width="1" height="16" fill="#26a69a"/>
<rect x="862" y="594" width="3" height="15" fill="#26a69a"/>
<rect x="868" y="574" width="1" height="26" fill="#26a69a"/>
<rect x="867" y="584" width="3" height="11" fill="#26a69a"/>
<rect x="872" y="575" width="1" height="16" fill="#26a69a"/>
<rect x="871" y="579" width="3" height="6" fill="#26a69a"/>
<rect x="877" y="578" width="1" height="24" fill="#ef5350"/>
<rect x="876" y="579" width="3" height="20" fill="#ef5350"/>
<rect x="882" y="586" width="1" height="20" fill="#ef5350"/>
<rect x="881" y="598" width="3" height="7" fill="#ef5350"/>
<rect x="886" y="601" width="1" height="41" fill="#ef5350"/>
<rect x="885" y="604" width="3" height="27" fill="#ef5350"/>
<rect x="891" y="620" width="1" height="19" fill="#ef5350"/>
<rect x="890" y="630" width="3" height="1" fill="#ef5350"/>
<rect x="896" y="623" width="1" height="9" fill="#26a69a"/>
<rect x="895" y="630" width="3" height="1" fill="#26a69a"/>
<rect x="900" y="621" width="1" height="10" fill="#26a69a"/>
<rect x="899" y="623" width="3" height="8" fill="#26a69a"/>
<rect x="905" y="612" width="1" height="12" fill="#26a69a"/>
<rect x="904" y="618" width="3" height="6" fill="#26a69a"/>
<rect x="910" y="607" width="1" height="16" fill="#26a69a"/>
<rect x="909" y="611" width="3" height="8" fill="#26a69a"/>
<rect x="914" y="604" width="1" height="12" fill="#26a69a"/>
<rect x="913" y="605" width="3" height="7" fill="#26a69a"/>
<rect x="919" y="595" width="1" height="14" fill="#26a69a"/>
<rect x="918" y="601" width="3" height="5" fill="#26a69a"/>
<rect x="924" y="598" width="1" height="14" fill="#ef5350"/>
<rect x="923" y="601" width="3" height="8" fill="#ef5350"/>
<rect x="928" y="601" width="1" height="12" fill="#26a69a"/>
<rect x="927" y="602" width="3" height="7" fill="#26a69a"/>
<rect x="933" y="598" width="1" height="10" fill="#ef5350"/>
<rect x="932" y="602" width="3" height="3" fill="#ef5350"/>
<rect x="937" y="588" width="1" height="18" fill="#26a69a"/>
<rect x="936" y="593" width="3" height="12" fill="#26a69a"/>
<rect x="942" y="586" width="1" height="10" fill="#26a69a"/>
<rect x="941" y="589" width="3" height="5" fill="#26a69a"/>
<rect x="947" y="587" width="1" height="10" fill="#ef5350"/>
<rect x="946" y="589" width="3" height="5" fill="#ef5350"/>
<rect x="951" y="592" width="1" height="7" fill="#ef5350"/>
<rect x="950" y="593" width="3" height="3" fill="#ef5350"/>
<rect x="956" y="587" width="1" height="13" fill="#ef5350"/>
<rect x="955" y="595" width="3" height="2" fill="#ef5350"/>
<rect x="961" y="593" width="1" height="5" fill="#26a69a"/>
<rect x="960" y="595" width="3" height="2" fill="#26a69a"/>
<rect x="965" y="588" width="1" height="8" fill="#26a69a"/>
<rect x="964" y="590" width="3" height="6" fill="#26a69a"/>
<rect x="970" y="589" width="1" height="6" fill="#ef5350"/>
<rect x="969" y="590" width="3" height="1" fill="#ef5350"/>
<rect x="975" y="563" width="1" height="31" fill="#26a69a"/>
<rect x="974" y="566" width="3" height="26" fill="#26a69a"/>
<rect x="979" y="531" width="1" height="38" fill="#26a69a"/>
<rect x="978" y="546" width="3" height="21" fill="#26a69a"/>
<rect x="984" y="534" width="1" height="16" fill="#26a69a"/>
<rect x="983" y="540" width="3" height="7" fill="#26a69a"/>
<rect x="989" y="521" width="1" height="28" fill="#26a69a"/>
<rect x="988" y="525" width="3" height="16" fill="#26a69a"/>
<rect x="993" y="520" width="1" height="24" fill="#ef5350"/>
<rect x="992" y="525" width="3" height="15" fill="#ef5350"/>
<rect x="998" y="526" width="1" height="22" fill="#26a69a"/>
<rect x="997" y="527" width="3" height="13" fill="#26a69a"/>
<rect x="1003" y="506" width="1" height="62" fill="#ef5350"/>
<rect x="1002" y="527" width="3" height="25" fill="#ef5350"/>
<rect x="1007" y="540" width="1" height="23" fill="#26a69a"/>
<rect x="1006" y="548" width="3" height="4" fill="#26a69a"/>
<rect x="1012" y="538" width="1" height="15" fill="#26a69a"/>
<rect x="1011" y="546" width="3" height="3" fill="#26a69a"/>
<rect x="1017" y="544" width="1" height="23" fill="#ef5350"/>
<rect x="1016" y="546" width="3" height="6" fill="#ef5350"/>
<rect x="1021" y="546" width="1" height="14" fill="#ef5350"/>
<rect x="1020" y="551" width="3" height="2" fill="#ef5350"/>
<rect x="1026" y="543" width="1" height="17" fill="#26a69a"/>
<rect x="1025" y="545" width="3" height="8" fill="#26a69a"/>
<rect x="1031" y="538" width="1" height="12" fill="#26a69a"/>
<rect x="1030" y="544" width="3" height="2" fill="#26a69a"/>
<rect x="1035" y="529" width="1" height="21" fill="#26a69a"/>
<rect x="1034" y="534" width="3" height="11" fill="#26a69a"/>
<rect x="1040" y="532" width="1" height="14" fill="#ef5350"/>
<rect x="1039" y="534" width="3" height="4" fill="#ef5350"/>
<rect x="1045" y="513" width="1" height="34" fill="#26a69a"/>
<rect x="1044" y="518" width="3" height="20" fill="#26a69a"/>
<rect x="1049" y="510" width="1" height="16" fill="#ef5350"/>
<rect x="1048" y="518" width="3" height="3" fill="#ef5350"/>
<rect x="1054" y="475" width="1" height="47" fill="#26a69a"/>
<rect x="1053" y="482" width="3" height="38" fill="#26a69a"/>
<rect x="1059" y="461" width="1" height="49" fill="#26a69a"/>
<rect x="1058" y="476" width="3" height="7" fill="#26a69a"/>
<rect x="1063" y="456" width="1" height="27" fill="#26a69a"/>
<rect x="1062" y="468" width="3" height="9" fill="#26a69a"/>
<rect x="1068" y="467" width="1" height="26" fill="#ef5350"/>
<rect x="1067" y="468" width="3" height="5" fill="#ef5350"/>
<rect x="1073" y="442" width="1" height="36" fill="#26a69a"/>
<rect x="1072" y="456" width="3" height="17" fill="#26a69a"/>
<rect x="1077" y="430" width="1" height="56" fill="#26a69a"/>
<rect x="1076" y="440" width="3" height="17" fill="#26a69a"/>
<rect x="1082" y="328" width="1" height="114" fill="#26a69a"/>
<rect x="1081" y="340" width="3" height="101" fill="#26a69a"/>
<rect x="1087" y="214" width="1" height="159" fill="#26a69a"/>
<rect x="1086" y="247" width="3" height="94" fill="#26a69a"/>
<rect x="1091" y="233" width="1" height="133" fill="#ef5350"/>
<rect x="1090" y="247" width="3" height="8" fill="#ef5350"/>
<rect x="1096" y="184" width="1" height="137" fill="#26a69a"/>
<rect x="1095" y="199" width="3" height="56" fill="#26a69a"/>
<rect x="1101" y="171" width="1" height="93" fill="#ef5350"/>
<rect x="1100" y="199" width="3" height="29" fill="#ef5350"/>
<rect x="1105" y="96" width="1" height="146" fill="#26a69a"/>
<rect x="1104" y="113" width="3" height="115" fill="#26a69a"/>
<path d="M7 113h1v1h-1zM10 113h1v1h-1zM13 113h1v1h-1zM16 113h1v1h-1zM19 113h1v1h-1zM22 113h1v1h-1zM25 113h1v1h-1zM28 113h1v1h-1zM31 113h1v1h-1zM34 113h1v1h-1zM37 113h1v1h-1zM40 113h1v1h-1zM43 113h1v1h-1zM46 113h1v1h-1zM49 113h1v1h-1zM52 113h1v1h-1zM55 113h1v1h-1zM58 113h1v1h-1zM61 113h1v1h-1zM64 113h1v1h-1zM67 113h1v1h-1zM70 113h1v1h-1zM73 113h1v1h-1zM76 113h1v1h-1zM79 113h1v1h-1zM82 113h1v1h-1zM85 113h1v1h-1zM88 113h1v1h-1zM91 113h1v1h-1zM94 113h1v1h-1zM97 113h1v1h-1zM100 113h1v1h-1zM103 113h1v1h-1zM106 113h1v1h-1zM109 113h1v1h-1zM112 113h1v1h-1zM115 113h1v1h-1zM118 113h1v1h-1zM121 113h1v1h-1zM124 113h1v1h-1zM127 113h1v1h-1zM130 113h1v1h-1zM133 113h1v1h-1zM136 113h1v1h-1zM139 113h1v1h-1zM142 113h1v1h-1zM145 113h1v1h-1zM148 113h1v1h-1zM151 113h1v1h-1zM154 113h1v1h-1zM157 113h1v1h-1zM160 113h1v1h-1zM163 113h1v1h-1zM166 113h1v1h-1zM169 113h1v1h-1zM172 113h1v1h-1zM175 113h1v1h-1zM178 113h1v1h-1zM181 113h1v1h-1zM184 113h1v1h-1zM187 113h1v1h-1zM190 113h1v1h-1zM193 113h1v1h-1zM196 113h1v1h-1zM199 113h1v1h-1zM202 113h1v1h-1zM205 113h1v1h-1zM208 113h1v1h-1zM211 113h1v1h-1zM214 113h1v1h-1zM217 113h1v1h-1zM220 113h1v1h-1zM223 113h1v1h-1zM226 113h1v1h-1zM229 113h1v1h-1zM232 113h1v1h-1zM235 113h1v1h-1zM238 113h1v1h-1zM241 113h1v1h-1zM244 113h1v1h-1zM247 113h1v1h-1zM250 113h1v1h-1zM253 113h1v1h-1zM256 113h1v1h-1zM259 113h1v1h-1zM262 113h1v1h-1zM265 113h1v1h-1zM268 113h1v1h-1zM271 113h1v1h-1zM274 113h1v1h-1zM277 113h1v1h-1zM280 113h1v1h-1zM283 113h1v1h-1zM286 113h1v1h-1zM289 113h1v1h-1zM292 113h1v1h-1zM295 113h1v1h-1zM298 113h1v1h-1zM301 113h1v1h-1zM304 113h1v1h-1zM307 113h1v1h-1zM310 113h1v1h-1zM313 113h1v1h-1zM316 113h1v1h-1zM319 113h1v1h-1zM322 113h1v1h-1zM325 113h1v1h-1zM328 113h1v1h-1zM331 113h1v1h-1zM334 113h1v1h-1zM337 113h1v1h-1zM340 113h1v1h-1zM343 113h1v1h-1zM346 113h1v1h-1zM349 113h1v1h-1zM352 113h1v1h-1zM355 113h1v1h-1zM358 113h1v1h-1zM361 113h1v1h-1zM364 113h1v1h-1zM367 113h1v1h-1zM370 113h1v1h-1zM373 113h1v1h-1zM376 113h1v1h-1zM379 113h1v1h-1zM382 113h1v1h-1zM385 113h1v1h-1zM388 113h1v1h-1zM391 113h1v1h-1zM394 113h1v1h-1zM397 113h1v1h-1zM400 113h1v1h-1zM403 113h1v1h-1zM406 113h1v1h-1zM409 113h1v1h-1zM412 113h1v1h-1zM415 113h1v1h-1zM418 113h1v1h-1zM421 113h1v1h-1zM424 113h1v1h-1zM427 113h1v1h-1zM430 113h1v1h-1zM433 113h1v1h-1zM436 113h1v1h-1zM439 113h1v1h-1zM442 113h1v1h-1zM445 113h1v1h-1zM448 113h1v1h-1zM451 113h1v1h-1zM454 113h1v1h-1zM457 113h1v1h-1zM460 113h1v1h-1zM463 113h1v1h-1zM466 113h1v1h-1zM469 113h1v1h-1zM472 113h1v1h-1zM475 113h1v1h-1zM478 113h1v1h-1zM481 113h1v1h-1zM484 113h1v1h-1zM487 113h1v1h-1zM490 113h1v1h-1zM493 113h1v1h-1zM496 113h1v1h-1zM499 113h1v1h-1zM502 113h1v1h-1zM505 113h1v1h-1zM508 113h1v1h-1zM511 113h1v1h-1zM514 113h1v1h-1zM517 113h1v1h-1zM520 113h1v1h-1zM523 113h1v1h-1zM526 113h1v1h-1zM529 113h1v1h-1zM532 113h1v1h-1zM535 113h1v1h-1zM538 113h1v1h-1zM541 113h1v1h-1zM544 113h1v1h-1zM547 113h1v1h-1zM550 113h1v1h-1zM553 113h1v1h-1zM556 113h1v1h-1zM559 113h1v1h-1zM562 113h1v1h-1zM565 113h1v1h-1zM568 113h1v1h-1zM571 113h1v1h-1zM574 113h1v1h-1zM577 113h1v1h-1zM580 113h1v1h-1zM583 113h1v1h-1zM586 113h1v1h-1zM589 113h1v1h-1zM592 113h1v1h-1zM595 113h1v1h-1zM598 113h1v1h-1zM601 113h1v1h-1zM604 113h1v1h-1zM607 113h1v1h-1zM610 113h1v1h-1zM613 113h1v1h-1zM616 113h1v1h-1zM619 113h1v1h-1zM622 113h1v1h-1zM625 113h1v1h-1zM628 113h1v1h-1zM631 113h1v1h-1zM634 113h1v1h-1zM637 113h1v1h-1zM640 113h1v1h-1zM643 113h1v1h-1zM646 113h1v1h-1zM649 113h1v1h-1zM652 113h1v1h-1zM655 113h1v1h-1zM658 113h1v1h-1zM661 113h1v1h-1zM664 113h1v1h-1zM667 113h1v1h-1zM670 113h1v1h-1zM673 113h1v1h-1zM676 113h1v1h-1zM679 113h1v1h-1zM682 113h1v1h-1zM685 113h1v1h-1zM688 113h1v1h-1zM691 113h1v1h-1zM694 113h1v1h-1zM697 113h1v1h-1zM700 113h1v1h-1zM703 113h1v1h-1zM706 113h1v1h-1zM709 113h1v1h-1zM712 113h1v1h-1zM715 113h1v1h-1zM718 113h1v1h-1zM721 113h1v1h-1zM724 113h1v1h-1zM727 113h1v1h-1zM730 113h1v1h-1zM733 113h1v1h-1zM736 113h1v1h-1zM739 113h1v1h-1zM742 113h1v1h-1zM745 113h1v1h-1zM748 113h1v1h-1zM751 113h1v1h-1zM754 113h1v1h-1zM757 113h1v1h-1zM760 113h1v1h-1zM763 113h1v1h-1zM766 113h1v1h-1zM769 113h1v1h-1zM772 113h1v1h-1zM775 113h1v1h-1zM778 113h1v1h-1zM781 113h1v1h-1zM784 113h1v1h-1zM787 113h1v1h-1zM790 113h1v1h-1zM793 113h1v1h-1zM796 113h1v1h-1zM799 113h1v1h-1zM802 113h1v1h-1zM805 113h1v1h-1zM808 113h1v1h-1zM811 113h1v1h-1zM814 113h1v1h-1zM817 113h1v1h-1zM820 113h1v1h-1zM823 113h1v1h-1zM826 113h1v1h-1zM829 113h1v1h-1zM832 113h1v1h-1zM835 113h1v1h-1zM838 113h1v1h-1zM841 113h1v1h-1zM844 113h1v1h-1zM847 113h1v1h-1zM850 113h1v1h-1zM853 113h1v1h-1zM856 113h1v1h-1zM859 113h1v1h-1zM862 113h1v1h-1zM865 113h1v1h-1zM868 113h1v1h-1zM871 113h1v1h-1zM874 113h1v1h-1zM877 113h1v1h-1zM880 113h1v1h-1zM883 113h1v1h-1zM886 113h1v1h-1zM889 113h1v1h-1zM892 113h1v1h-1zM895 113h1v1h-1zM898 113h1v1h-1zM901 113h1v1h-1zM904 113h1v1h-1zM907 113h1v1h-1zM910 113h1v1h-1zM913 113h1v1h-1zM916 113h1v1h-1zM919 113h1v1h-1zM922 113h1v1h-1zM925 113h1v1h-1zM928 113h1v1h-1zM931 113h1v1h-1zM934 113h1v1h-1zM937 113h1v1h-1zM940 113h1v1h-1zM943 113h1v1h-1zM946 113h1v1h-1zM949 113h1v1h-1zM952 113h1v1h-1zM955 113h1v1h-1zM958 113h1v1h-1zM961 113h1v1h-1zM964 113h1v1h-1zM967 113h1v1h-1zM970 113h1v1h-1zM973 113h1v1h-1zM976 113h1v1h-1zM979 113h1v1h-1zM982 113h1v1h-1zM985 113h1v1h-1zM988 113h1v1h-1zM991 113h1v1h-1zM994 113h1v1h-1zM997 113h1v1h-1zM1000 113h1v1h-1zM1003 113h1v1h-1zM1006 113h1v1h-1zM1009 113h1v1h-1zM1012 113h1v1h-1zM1015 113h1v1h-1zM1018 113h1v1h-1zM1021 113h1v1h-1zM1024 113h1v1h-1zM1027 113h1v1h-1zM1030 113h1v1h-1zM1033 113h1v1h-1zM1036 113h1v1h-1zM1039 113h1v1h-1zM1042 113h1v1h-1zM1045 113h1v1h-1zM1048 113h1v1h-1zM1051 113h1v1h-1zM1054 113h1v1h-1zM1057 113h1v1h-1zM1060 113h1v1h-1zM1063 113h1v1h-1zM1066 113h1v1h-1zM1069 113h1v1h-1zM1072 113h1v1h-1zM1075 113h1v1h-1zM1078 113h1v1h-1zM1081 113h1v1h-1zM1084 113h1v1h-1zM1087 113h1v1h-1zM1090 113h1v1h-1zM1093 113h1v1h-1zM1096 113h1v1h-1zM1099 113h1v1h-1zM1102 113h1v1h-1zM1105 113h1v1h-1zM1108 113h1v1h-1zM1111 113h1v1h-1zM1114 113h1v1h-1zM1117 113h1v1h-1zM1120 113h1v1h-1zM1123 113h1v1h-1zM1126 113h1v1h-1zM1129 113h1v1h-1zM1132 113h1v1h-1zM1135 113h1v1h-1zM1138 113h1v1h-1zM1141 113h1v1h-1zM1144 113h1v1h-1zM1147 113h1v1h-1zM1150 113h1v1h-1zM1153 113h1v1h-1zM1156 113h1v1h-1zM1159 113h1v1h-1zM1162 113h1v1h-1zM1165 113h1v1h-1zM1168 113h1v1h-1zM1171 113h1v1h-1zM1174 113h1v1h-1zM1177 113h1v1h-1zM1180 113h1v1h-1zM1183 113h1v1h-1zM1186 113h1v1h-1zM1189 113h1v1h-1zM1192 113h1v1h-1zM1195 113h1v1h-1z" fill="#26a69a"/>
<rect x="7" y="191" width="1246" height="1" fill="#2196f3"/>
</g>
<rect x="1253" y="26" width="1" height="730" fill="#dedfe3"/>
<rect x="7" y="727" width="1306" height="1" fill="#dedfe3"/>
<rect x="1254" y="706" width="4" height="1" fill="#dedfe3"/>
<rect x="1254" y="672" width="4" height="1" fill="#dedfe3"/>
<rect x="1254" y="638" width="4" height="1" fill="#dedfe3"/>
<rect x="1254" y="604" width="4" height="1" fill="#dedfe3"/>
<rect x="1254" y="570" width="4" height="1" fill="#dedfe3"/>
<rect x="1254" y="536" width="4" height="1" fill="#dedfe3"/>
<rect x="1254" y="502" width="4" height="1" fill="#dedfe3"/>
<rect x="1254" y="469" width="4" height="1" fill="#dedfe3"/>
<rect x="1254" y="435" width="4" height="1" fill="#dedfe3"/>
<rect x="1254" y="401" width="4" height="1" fill="#dedfe3"/>
<rect x="1254" y="367" width="4" height="1" fill="#dedfe3"/>
<rect x="1254" y="333" width="4" height="1" fill="#dedfe3"/>
<rect x="1254" y="299" width="4" height="1" fill="#dedfe3"/>
<rect x="1254" y="265" width="4" height="1" fill="#dedfe3"/>
<rect x="1254" y="231" width="4" height="1" fill="#dedfe3"/>
<rect x="1254" y="197" width="4" height="1" fill="#dedfe3"/>
<rect x="1254" y="164" width="4" height="1" fill="#dedfe3"/>
<rect x="1254" y="130" width="4" height="1" fill="#dedfe3"/>
<rect x="1254" y="96" width="4" height="1" fill="#dedfe3"/>
<rect x="1254" y="62" width="4" height="1" fill="#dedfe3"/>
<rect x="1254" y="28" width="4" height="1" fill="#dedfe3"/>
<rect x="113" y="728" width="1" height="4" fill="#dedfe3"/>
<rect x="216" y="728" width="1" height="4" fill="#dedfe3"/>
<rect x="355" y="728" width="1" height="4" fill="#dedfe3"/>
<rect x="439" y="728" width="1" height="4" fill="#dedfe3"/>
<rect x="602" y="728" width="1" height="4" fill="#dedfe3"/>
<rect x="700" y="728" width="1" height="4" fill="#dedfe3"/>
<rect x="844" y="728" width="1" height="4" fill="#dedfe3"/>
<rect x="942" y="728" width="1" height="4" fill="#dedfe3"/>
<rect x="1087" y="728" width="1" height="4" fill="#dedfe3"/>
<rect x="1189" y="728" width="1" height="4" fill="#dedfe3"/>
</g>
<clipPath id="pc"><rect x="1254" y="26" width="59" height="701"/></clipPath>
<g clip-path="url(#pc)" font-size="12" fill="#131722">
<text x="1262" y="710.6" textLength="42.1" lengthAdjust="spacingAndGlyphs">−100.00</text>
<text x="1262" y="676.6" textLength="23.3" lengthAdjust="spacingAndGlyphs">0.00</text>
<text x="1262" y="642.6" textLength="35.9" lengthAdjust="spacingAndGlyphs">100.00</text>
<text x="1262" y="608.6" textLength="35.9" lengthAdjust="spacingAndGlyphs">200.00</text>
<text x="1262" y="574.6" textLength="35.9" lengthAdjust="spacingAndGlyphs">300.00</text>
<text x="1262" y="540.6" textLength="35.9" lengthAdjust="spacingAndGlyphs">400.00</text>
<text x="1262" y="506.6" textLength="35.9" lengthAdjust="spacingAndGlyphs">500.00</text>
<text x="1262" y="473.6" textLength="35.9" lengthAdjust="spacingAndGlyphs">600.00</text>
<text x="1262" y="439.6" textLength="35.9" lengthAdjust="spacingAndGlyphs">700.00</text>
<text x="1262" y="405.6" textLength="35.9" lengthAdjust="spacingAndGlyphs">800.00</text>
<text x="1262" y="371.6" textLength="35.9" lengthAdjust="spacingAndGlyphs">900.00</text>
<text x="1262" y="337.6" textLength="42.1" lengthAdjust="spacingAndGlyphs">1000.00</text>
<text x="1262" y="303.6" textLength="42.1" lengthAdjust="spacingAndGlyphs">1100.00</text>
<text x="1262" y="269.6" textLength="42.1" lengthAdjust="spacingAndGlyphs">1200.00</text>
<text x="1262" y="235.6" textLength="42.1" lengthAdjust="spacingAndGlyphs">1300.00</text>
<text x="1262" y="201.6" textLength="42.1" lengthAdjust="spacingAndGlyphs">1400.00</text>
<text x="1262" y="168.6" textLength="42.1" lengthAdjust="spacingAndGlyphs">1500.00</text>
<text x="1262" y="134.6" textLength="42.1" lengthAdjust="spacingAndGlyphs">1600.00</text>
<text x="1262" y="100.6" textLength="42.1" lengthAdjust="spacingAndGlyphs">1700.00</text>
<text x="1262" y="66.6" textLength="42.1" lengthAdjust="spacingAndGlyphs">1800.00</text>
<text x="1262" y="32.6" textLength="42.1" lengthAdjust="spacingAndGlyphs">1900.00</text>
</g>
<rect x="1267.5" y="33.5" width="31" height="17" rx="3" ry="3" fill="#fff" stroke="#d1d4dc" stroke-width="1"/>
<text x="1272.6" y="44.1" font-size="10.5" fill="#131722" textLength="20.8" lengthAdjust="spacingAndGlyphs">USD</text>
<g shape-rendering="crispEdges">
<rect x="1197" y="104" width="55" height="19" fill="#26a69a"/>
<rect x="1253" y="104" width="60" height="19" fill="#26a69a"/>
<rect x="1253" y="113" width="4" height="1" fill="#fff"/>
<rect x="1265" y="124" width="48" height="19" fill="#26a69a"/>
<rect x="1253" y="182" width="60" height="19" fill="#2196f3"/>
<rect x="1253" y="191" width="4" height="1" fill="#fff"/>
</g>
<g font-size="12" fill="#fff" stroke="#fff" stroke-width="0.45">
<text x="1204.5" y="117.7" stroke-width="0.2" textLength="43" lengthAdjust="spacingAndGlyphs">ETHUSD</text>
<text x="1262" y="117.7" textLength="42.1" lengthAdjust="spacingAndGlyphs">1650.03</text>
<text x="1269" y="137.6" textLength="36.5" lengthAdjust="spacingAndGlyphs">2d 14h</text>
<text x="1262" y="195.8" textLength="42.1" lengthAdjust="spacingAndGlyphs">1419.96</text>
</g>
<text x="1125.5" y="204.3" font-size="13" fill="#2196f3" textLength="120" lengthAdjust="spacingAndGlyphs">Allzeithoch 2017/18</text>
<text x="99.5" y="747" font-size="12" fill="#131722" stroke="#131722" stroke-width="0.28" textLength="28.1" lengthAdjust="spacingAndGlyphs">2017</text>
<text x="206.8" y="747" font-size="12" fill="#131722" textLength="18.3" lengthAdjust="spacingAndGlyphs">Jun</text>
<text x="341.4" y="747" font-size="12" fill="#131722" stroke="#131722" stroke-width="0.28" textLength="28.1" lengthAdjust="spacingAndGlyphs">2018</text>
<text x="427.9" y="747" font-size="12" fill="#131722" textLength="22.0" lengthAdjust="spacingAndGlyphs">May</text>
<text x="588.5" y="747" font-size="12" fill="#131722" stroke="#131722" stroke-width="0.28" textLength="28.1" lengthAdjust="spacingAndGlyphs">2019</text>
<text x="690.8" y="747" font-size="12" fill="#131722" textLength="18.3" lengthAdjust="spacingAndGlyphs">Jun</text>
<text x="830.5" y="747" font-size="12" fill="#131722" stroke="#131722" stroke-width="0.28" textLength="28.1" lengthAdjust="spacingAndGlyphs">2020</text>
<text x="932.8" y="747" font-size="12" fill="#131722" textLength="18.3" lengthAdjust="spacingAndGlyphs">Jun</text>
<text x="1073.5" y="747" font-size="12" fill="#131722" stroke="#131722" stroke-width="0.28" textLength="28.1" lengthAdjust="spacingAndGlyphs">2021</text>
<text x="1179.8" y="747" font-size="12" fill="#131722" textLength="18.3" lengthAdjust="spacingAndGlyphs">Jun</text>
<rect x="6.5" y="25.5" width="1307" height="731" fill="none" stroke="#000" stroke-width="1" shape-rendering="crispEdges"/>
<text x="5.8" y="15.6" font-size="13" fill="#131722" stroke="#131722" stroke-width="0.7" textLength="138" lengthAdjust="spacingAndGlyphs">COINBASE:ETHUSD, 1W</text>
<text x="149.5" y="15.6" font-size="13" fill="#131722" textLength="45.2" lengthAdjust="spacingAndGlyphs">1650.03</text>
<path d="M198 15.8 L203 6.2 L208 15.8 Z" fill="#26a69a"/>
<text x="212.5" y="15.6" font-size="13" fill="#131722" textLength="91.5" lengthAdjust="spacingAndGlyphs">+52.48 (+3.29%)</text>
<text x="308" y="15.6" font-size="13" fill="#131722" stroke="#131722" stroke-width="0.7" textLength="13" lengthAdjust="spacingAndGlyphs">O:</text>
<text x="322" y="15.6" font-size="13" fill="#26a69a" textLength="45.6" lengthAdjust="spacingAndGlyphs">1313.95</text>
<text x="372" y="15.6" font-size="13" fill="#131722" stroke="#131722" stroke-width="0.7" textLength="12.6" lengthAdjust="spacingAndGlyphs">H:</text>
<text x="386.3" y="15.6" font-size="13" fill="#26a69a" textLength="45.6" lengthAdjust="spacingAndGlyphs">1699.00</text>
<text x="436" y="15.6" font-size="13" fill="#131722" stroke="#131722" stroke-width="0.7" textLength="9.6" lengthAdjust="spacingAndGlyphs">L:</text>
<text x="447.1" y="15.6" font-size="13" fill="#26a69a" textLength="45.6" lengthAdjust="spacingAndGlyphs">1271.31</text>
<text x="497" y="15.6" font-size="13" fill="#131722" stroke="#131722" stroke-width="0.7" textLength="10.6" lengthAdjust="spacingAndGlyphs">C:</text>
<text x="509.3" y="15.6" font-size="13" fill="#26a69a" textLength="45.6" lengthAdjust="spacingAndGlyphs">1650.03</text>
<g fill="#2196f3"><circle cx="10.3" cy="777.5" r="4.5"/><circle cx="16.7" cy="772.6" r="5.8"/><circle cx="26" cy="774.8" r="3.7"/><circle cx="27.4" cy="777.4" r="4.7"/><rect x="10.3" y="774" width="17.1" height="8.1"/></g><path d="M6.2 780 L15.9 772.8 L22.05 778.4 L28.4 771.4" stroke="#fff" stroke-width="1.1" fill="none"/><circle cx="15.9" cy="772.8" r="1.85" fill="#fff"/><circle cx="22.05" cy="778.4" r="1.85" fill="#fff"/>
<text x="34" y="779" font-size="13" fill="#131722" textLength="70.5" lengthAdjust="spacingAndGlyphs">TradingView</text>
</svg></body></html>
